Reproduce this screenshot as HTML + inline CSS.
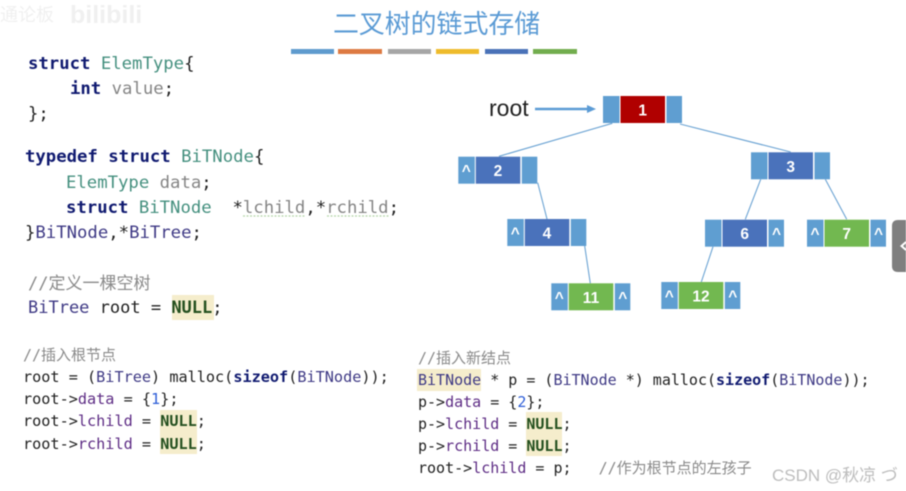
<!DOCTYPE html>
<html><head><meta charset="utf-8"><style>
html,body{margin:0;padding:0;background:#fff;width:906px;height:491px;overflow:hidden}
svg{display:block;filter:blur(.5px)}
text{white-space:pre}
.c{font-family:"DejaVu Sans Mono","Noto Sans CJK SC",monospace;fill:#222}
.a{font-size:17.3px}.b{font-size:15.2px}.d{font-size:17px}
.k{fill:#101a70;font-weight:bold}.t{fill:#45907f}.g{fill:#858585}.p{fill:#5e2d85}.y{fill:#3f3a85}.m{fill:#8a8a8a}.n{fill:#24501f;font-weight:bold}.u{fill:#2f5fd8}
.h{fill:#f5edcc}.l{stroke:#6ba3d3;stroke-width:1.1;fill:none}
.nt{font-family:"Liberation Sans",sans-serif;font-weight:bold;fill:#fff;font-size:15.5px;text-anchor:middle}
</style></head><body>
<svg width="906" height="491" viewBox="0 0 906 491" xmlns="http://www.w3.org/2000/svg">
<defs>
<g id="cells-s"><rect x="0" y="0" width="16.5" height="27" fill="#5f9ed1"/><rect x="63.5" y="0" width="15.5" height="27" fill="#5f9ed1"/></g>
</defs>
<rect width="906" height="491" fill="#fff"/>
<!-- watermark -->
<text x="0" y="21" font-family="Noto Sans CJK SC,sans-serif" font-size="18" fill="#f0f0f0">通论板</text>
<text x="70" y="23" font-family="Liberation Sans,sans-serif" font-weight="bold" font-size="25" fill="#f0f0f0">bilibili</text>
<!-- title -->
<text x="333" y="33" font-family="'Noto Sans CJK SC',sans-serif" font-size="25.9" fill="#5b9bd5">二叉树的链式存储</text>
<g>
<rect x="291" y="49" width="43" height="5" fill="#5f9bce"/><rect x="338" y="49" width="44" height="5" fill="#dd7a42"/>
<rect x="388" y="49" width="43" height="5" fill="#a6a6a6"/><rect x="436" y="49" width="43" height="5" fill="#eebb2c"/>
<rect x="485" y="49" width="43" height="5" fill="#4a72b8"/><rect x="533" y="49" width="44" height="5" fill="#72ad4e"/>
</g>
<!-- highlights -->
<rect class="h" x="172" y="295" width="42" height="25"/>
<rect class="h" x="160" y="410" width="37" height="44"/>
<rect class="h" x="417" y="369" width="64" height="22"/>
<rect class="h" x="526" y="412" width="36" height="44"/>
<!-- code top -->
<g class="c a">
<text x="28" y="69"><tspan class="k">struct</tspan> <tspan class="t">ElemType</tspan>{</text>
<text x="70" y="94"><tspan class="k">int</tspan> <tspan class="g">value</tspan>;</text>
<text x="28" y="119">};</text>
<text x="25" y="162"><tspan class="k">typedef</tspan> <tspan class="k">struct</tspan> <tspan class="t">BiTNode</tspan>{</text>
<text x="66" y="188"><tspan class="t">ElemType</tspan> <tspan class="g">data</tspan>;</text>
<text x="66" y="213"><tspan class="k">struct</tspan> <tspan class="t">BiTNode</tspan>  *<tspan class="g">lchild</tspan>,*<tspan class="g">rchild</tspan>;</text>
<text x="25" y="238">}<tspan class="y">BiTNode</tspan>,*<tspan class="y">BiTree</tspan>;</text>
</g>
<path d="M243 216h62M327 216h62" stroke="#b5d6a8" stroke-width="1.2" stroke-dasharray="2 1.5"/>
<g class="c d">
<text x="28" y="289" class="m" style="font-size:17px">//定义一棵空树</text>
<text x="28" y="313"><tspan class="y">BiTree</tspan> root = <tspan class="n">NULL</tspan>;</text>
</g>
<!-- code left -->
<g class="c b">
<text x="23" y="360" class="m" style="font-size:15px">//插入根节点</text>
<text x="23" y="382">root = (<tspan class="y">BiTree</tspan>) malloc(<tspan class="k">sizeof</tspan>(<tspan class="y">BiTNode</tspan>));</text>
<text x="23" y="404">root-&gt;<tspan class="p">data</tspan> = {<tspan class="u">1</tspan>};</text>
<text x="23" y="426">root-&gt;<tspan class="p">lchild</tspan> = <tspan class="n">NULL</tspan>;</text>
<text x="23" y="449">root-&gt;<tspan class="p">rchild</tspan> = <tspan class="n">NULL</tspan>;</text>
</g>
<!-- code right -->
<g class="c" style="font-size:15px">
<text x="418" y="363" class="m" style="font-size:15px">//插入新结点</text>
<text x="418" y="385"><tspan class="y">BiTNode</tspan> * p = (<tspan class="y">BiTNode</tspan> *) malloc(<tspan class="k">sizeof</tspan>(<tspan class="y">BiTNode</tspan>));</text>
<text x="418" y="407">p-&gt;<tspan class="p">data</tspan> = {<tspan class="u">2</tspan>};</text>
<text x="418" y="429">p-&gt;<tspan class="p">lchild</tspan> = <tspan class="n">NULL</tspan>;</text>
<text x="418" y="451">p-&gt;<tspan class="p">rchild</tspan> = <tspan class="n">NULL</tspan>;</text>
<text x="418" y="473">root-&gt;<tspan class="p">lchild</tspan> = p;   <tspan class="m" style="font-size:15px">//作为根节点的左孩子</tspan></text>
</g>
<text x="772" y="481" font-family="'Liberation Sans','Noto Sans CJK SC',sans-serif" font-size="17" fill="#bdbdbd">CSDN @秋凉 づ</text>
<!-- connectors -->
<path class="l" d="M612.3 123.3L499 156.3M680 124L790.7 152M537.7 182.7L547 219M760.7 179.3L745.3 219.3M825.3 179.3L846.7 219.3M584.7 246L590.3 283.3M713 246.7L701.3 282"/>
<!-- root -->
<text x="489" y="116" font-family="'Liberation Sans',sans-serif" font-size="23" fill="#222">root</text>
<path d="M535 109H588" stroke="#5b9bd5" stroke-width="2.4"/><path d="M587 105L596 109L587 113Z" fill="#5b9bd5"/>
<!-- nodes -->
<g transform="translate(603,96)"><use href="#cells-s"/><rect x="17.5" width="44.5" height="27" fill="#b00000"/><text class="nt" x="39.7" y="19.5">1</text></g>
<g transform="translate(458.3,156.7)"><use href="#cells-s"/><rect x="17.5" width="44.5" height="27" fill="#4a72bb"/><text class="nt" x="39.7" y="19.5">2</text><text class="nt" x="8" y="19.5">^</text></g>
<g transform="translate(751,152.3)"><use href="#cells-s"/><rect x="17.5" width="44.5" height="27" fill="#4a72bb"/><text class="nt" x="39.7" y="19.5">3</text></g>
<g transform="translate(507.3,219)"><use href="#cells-s"/><rect x="17.5" width="44.5" height="27" fill="#4a72bb"/><text class="nt" x="39.7" y="19.5">4</text><text class="nt" x="8" y="19.5">^</text></g>
<g transform="translate(705,219.7)"><use href="#cells-s"/><rect x="17.5" width="44.5" height="27" fill="#4a72bb"/><text class="nt" x="39.7" y="19.5">6</text><text class="nt" x="71.5" y="19.5">^</text></g>
<g transform="translate(807,219.7)"><use href="#cells-s"/><rect x="17.5" width="44.5" height="27" fill="#72b850"/><text class="nt" x="39.7" y="19.5">7</text><text class="nt" x="8" y="19.5">^</text><text class="nt" x="71.5" y="19.5">^</text></g>
<g transform="translate(551.3,283.3)"><use href="#cells-s"/><rect x="17.5" width="44.5" height="27" fill="#72b850"/><text class="nt" x="39.7" y="19.5">11</text><text class="nt" x="8" y="19.5">^</text><text class="nt" x="71.5" y="19.5">^</text></g>
<g transform="translate(661.3,282)"><use href="#cells-s"/><rect x="17.5" width="44.5" height="27" fill="#72b850"/><text class="nt" x="39.7" y="19.5">12</text><text class="nt" x="8" y="19.5">^</text><text class="nt" x="71.5" y="19.5">^</text></g>
<!-- side tab -->
<path d="M906 220H898Q892 220 892 226V266Q892 272 898 272H906Z" fill="#7f7f7f"/>
<path d="M906 242L901.5 246L906 250" stroke="#fff" stroke-width="2" fill="none"/>
</svg>
</body></html>
